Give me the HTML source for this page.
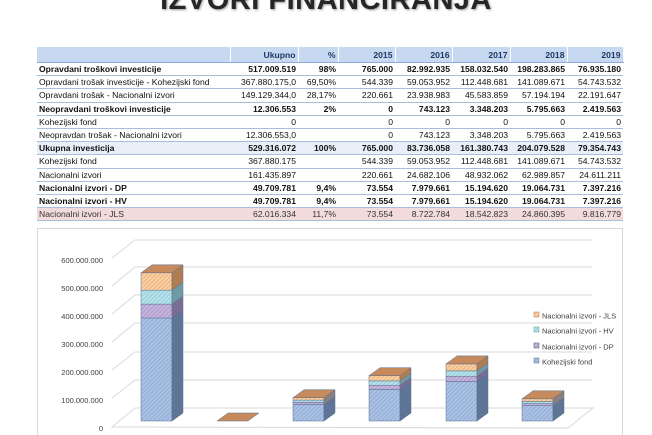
<!DOCTYPE html>
<html><head><meta charset="utf-8"><style>
body{margin:0;width:652px;height:435px;background:#fff;position:relative;overflow:hidden;font-family:"Liberation Sans",sans-serif;}
.title{position:absolute;left:0;width:652px;top:-16px;text-align:center;font-weight:bold;font-size:29px;color:#262626;text-shadow:1px 1px 2px #999;letter-spacing:0.5px}
table{position:absolute;left:37px;top:47px;width:586px;border-collapse:collapse;table-layout:fixed;font-size:8.6px;color:#111}
td{height:12.2px;padding:0 2px;border-bottom:1px solid #a7bfdc;text-align:right;white-space:nowrap;overflow:hidden;line-height:12px}
td:first-child{text-align:left}
tr.h td{background:#c6d9f0;height:15px;font-weight:bold;color:#1f3864;border-right:1px solid #fff;border-bottom:1px solid #8eaadb}
tr.b td{font-weight:bold}
tr.u td{background:#e8eff8;font-weight:bold}
tr.p td{background:#f2dcdb;color:#333}
</style></head><body>
<div class="title">IZVORI FINANCIRANJA</div>
<table>
<colgroup><col style="width:193px"><col style="width:68px"><col style="width:40px"><col style="width:57px"><col style="width:57px"><col style="width:58px"><col style="width:57px"><col style="width:56px"></colgroup>
<tr class="h"><td></td><td>Ukupno</td><td>%</td><td>2015</td><td>2016</td><td>2017</td><td>2018</td><td>2019</td></tr>
<tr class="b"><td>Opravdani troškovi investicije</td><td>517.009.519</td><td>98%</td><td>765.000</td><td>82.992.935</td><td>158.032.540</td><td>198.283.865</td><td>76.935.180</td></tr>
<tr><td>Opravdani trošak investicije - Kohezijski fond</td><td>367.880.175,0</td><td>69,50%</td><td>544.339</td><td>59.053.952</td><td>112.448.681</td><td>141.089.671</td><td>54.743.532</td></tr>
<tr><td>Opravdani trošak - Nacionalni izvori</td><td>149.129.344,0</td><td>28,17%</td><td>220.661</td><td>23.938.983</td><td>45.583.859</td><td>57.194.194</td><td>22.191.647</td></tr>
<tr class="b"><td>Neopravdani troškovi investicije</td><td>12.306.553</td><td>2%</td><td>0</td><td>743.123</td><td>3.348.203</td><td>5.795.663</td><td>2.419.563</td></tr>
<tr><td>Kohezijski fond</td><td>0</td><td></td><td>0</td><td>0</td><td>0</td><td>0</td><td>0</td></tr>
<tr><td>Neopravdan trošak - Nacionalni izvori</td><td>12.306.553,0</td><td></td><td>0</td><td>743.123</td><td>3.348.203</td><td>5.795.663</td><td>2.419.563</td></tr>
<tr class="u"><td>Ukupna investicija</td><td>529.316.072</td><td>100%</td><td>765.000</td><td>83.736.058</td><td>161.380.743</td><td>204.079.528</td><td>79.354.743</td></tr>
<tr><td>Kohezijski fond</td><td>367.880.175</td><td></td><td>544.339</td><td>59.053.952</td><td>112.448.681</td><td>141.089.671</td><td>54.743.532</td></tr>
<tr><td>Nacionalni izvori</td><td>161.435.897</td><td></td><td>220.661</td><td>24.682.106</td><td>48.932.062</td><td>62.989.857</td><td>24.611.211</td></tr>
<tr class="b"><td>Nacionalni izvori - DP</td><td>49.709.781</td><td>9,4%</td><td>73.554</td><td>7.979.661</td><td>15.194.620</td><td>19.064.731</td><td>7.397.216</td></tr>
<tr class="b"><td>Nacionalni izvori - HV</td><td>49.709.781</td><td>9,4%</td><td>73.554</td><td>7.979.661</td><td>15.194.620</td><td>19.064.731</td><td>7.397.216</td></tr>
<tr class="p"><td>Nacionalni izvori - JLS</td><td>62.016.334</td><td>11,7%</td><td>73.554</td><td>8.722.784</td><td>18.542.823</td><td>24.860.395</td><td>9.816.779</td></tr>
</table>
<svg style="position:absolute;left:0;top:0" width="652" height="435" font-family="Liberation Sans, sans-serif">
<defs>
<pattern id="pk" width="3" height="3" patternUnits="userSpaceOnUse" patternTransform="rotate(45)"><rect width="3" height="3" fill="#a9c1e3"/><line x1="0" y1="0" x2="0" y2="3" stroke="#7f9cc8" stroke-width="1"/></pattern>
<pattern id="pd" width="3" height="3" patternUnits="userSpaceOnUse" patternTransform="rotate(45)"><rect width="3" height="3" fill="#c4b3dc"/><line x1="0" y1="0" x2="0" y2="3" stroke="#9a86bb" stroke-width="1"/></pattern>
<pattern id="ph" width="3" height="3" patternUnits="userSpaceOnUse" patternTransform="rotate(45)"><rect width="3" height="3" fill="#b5e1ea"/><line x1="0" y1="0" x2="0" y2="3" stroke="#7fbfcd" stroke-width="1"/></pattern>
<pattern id="pj" width="3" height="3" patternUnits="userSpaceOnUse" patternTransform="rotate(45)"><rect width="3" height="3" fill="#f8cfa3"/><line x1="0" y1="0" x2="0" y2="3" stroke="#e59a5a" stroke-width="1"/></pattern>
</defs>
<rect x="37.5" y="228.5" width="585" height="210" fill="none" stroke="#d9d9d9"/>
<g stroke="#d9d9d9" fill="none" stroke-width="1">
<polyline points="112,258 135,240 592,240"/>
<polyline points="112,286 135,267 592,267"/>
<polyline points="112,314 135,295 592,295"/>
<polyline points="112,342 135,323 592,323"/>
<polyline points="112,370 135,352 592,352"/>
<polyline points="112,398 135,380 592,380"/>
<polygon points="112,427 135,408 593,408 568,428"/>
</g>
<g font-size="7.5" fill="#404040" text-anchor="end">
<text x="103" y="263">600.000.000</text>
<text x="103" y="291">500.000.000</text>
<text x="103" y="319">400.000.000</text>
<text x="103" y="347">300.000.000</text>
<text x="103" y="375">200.000.000</text>
<text x="103" y="403">100.000.000</text>
<text x="103" y="431">0</text>
</g>
<g stroke="#5a6f8f" stroke-width="0.5">
<!-- bar1 -->
<g transform="translate(141,0)">
<rect x="0" y="318" width="31" height="103" fill="url(#pk)"/><polygon points="31,318 42,310 42,413 31,421" fill="#5f7596"/>
<rect x="0" y="304.1" width="31" height="13.9" fill="url(#pd)"/><polygon points="31,304.1 42,296.1 42,310 31,318" fill="#7a6d94"/>
<rect x="0" y="290.2" width="31" height="13.9" fill="url(#ph)"/><polygon points="31,290.2 42,282.2 42,296.1 31,304.1" fill="#6f9aa4"/>
<rect x="0" y="272.8" width="31" height="17.4" fill="url(#pj)"/><polygon points="31,272.8 42,264.8 42,282.2 31,290.2" fill="#b07d52"/>
<polygon points="0,272.8 11,264.8 42,264.8 31,272.8" fill="#c68a5c"/>
</g>
<polygon points="217,421 228,413 259,413 248,421" fill="#c68a5c"/>
<g transform="translate(293,0)">
<rect x="0" y="404.5" width="31" height="16.5" fill="url(#pk)"/><polygon points="31,404.5 42,396.5 42,413 31,421" fill="#5f7596"/>
<rect x="0" y="402.3" width="31" height="2.2" fill="url(#pd)"/>
<rect x="0" y="400.1" width="31" height="2.2" fill="url(#ph)"/>
<rect x="0" y="397.7" width="31" height="2.4" fill="url(#pj)"/><polygon points="31,397.7 42,389.7 42,396.5 31,404.5" fill="#8a7f80"/>
<polygon points="0,397.7 11,389.7 42,389.7 31,397.7" fill="#c68a5c"/>
</g>
<g transform="translate(369,0)">
<rect x="0" y="389.5" width="31" height="31.5" fill="url(#pk)"/><polygon points="31,389.5 42,381.5 42,413 31,421" fill="#5f7596"/>
<rect x="0" y="385.2" width="31" height="4.3" fill="url(#pd)"/><polygon points="31,385.2 42,377.2 42,381.5 31,389.5" fill="#7a6d94"/>
<rect x="0" y="380.9" width="31" height="4.3" fill="url(#ph)"/><polygon points="31,380.9 42,372.9 42,377.2 31,385.2" fill="#6f9aa4"/>
<rect x="0" y="375.7" width="31" height="5.2" fill="url(#pj)"/><polygon points="31,375.7 42,367.7 42,372.9 31,380.9" fill="#b07d52"/>
<polygon points="0,375.7 11,367.7 42,367.7 31,375.7" fill="#c68a5c"/>
</g>
<g transform="translate(446,0)">
<rect x="0" y="381.5" width="31" height="39.5" fill="url(#pk)"/><polygon points="31,381.5 42,373.5 42,413 31,421" fill="#5f7596"/>
<rect x="0" y="376.2" width="31" height="5.3" fill="url(#pd)"/><polygon points="31,376.2 42,368.2 42,373.5 31,381.5" fill="#7a6d94"/>
<rect x="0" y="370.9" width="31" height="5.3" fill="url(#ph)"/><polygon points="31,370.9 42,362.9 42,368.2 31,376.2" fill="#6f9aa4"/>
<rect x="0" y="363.9" width="31" height="7" fill="url(#pj)"/><polygon points="31,363.9 42,355.9 42,362.9 31,370.9" fill="#b07d52"/>
<polygon points="0,363.9 11,355.9 42,355.9 31,363.9" fill="#c68a5c"/>
</g>
<g transform="translate(522,0)">
<rect x="0" y="405.7" width="31" height="15.3" fill="url(#pk)"/><polygon points="31,405.7 42,397.7 42,413 31,421" fill="#5f7596"/>
<rect x="0" y="403.6" width="31" height="2.1" fill="url(#pd)"/>
<rect x="0" y="401.5" width="31" height="2.1" fill="url(#ph)"/>
<rect x="0" y="398.8" width="31" height="2.7" fill="url(#pj)"/><polygon points="31,398.8 42,390.8 42,397.7 31,405.7" fill="#8a7f80"/>
<polygon points="0,398.8 11,390.8 42,390.8 31,398.8" fill="#c68a5c"/>
</g>
</g>
<g font-size="7.5" fill="#404040">
<rect x="534" y="312" width="5" height="5" fill="url(#pj)" stroke="#b07d52" stroke-width="0.5"/><text x="542" y="318.5">Nacionalni izvori - JLS</text>
<rect x="534" y="327" width="5" height="5" fill="url(#ph)" stroke="#6f9aa4" stroke-width="0.5"/><text x="542" y="333.5">Nacionalni izvori - HV</text>
<rect x="534" y="343" width="5" height="5" fill="url(#pd)" stroke="#5a4f70" stroke-width="0.5"/><text x="542" y="349.5">Nacionalni izvori - DP</text>
<rect x="534" y="358" width="5" height="5" fill="url(#pk)" stroke="#5f7596" stroke-width="0.5"/><text x="542" y="364.5">Kohezijski fond</text>
</g>
</svg>
</body></html>
